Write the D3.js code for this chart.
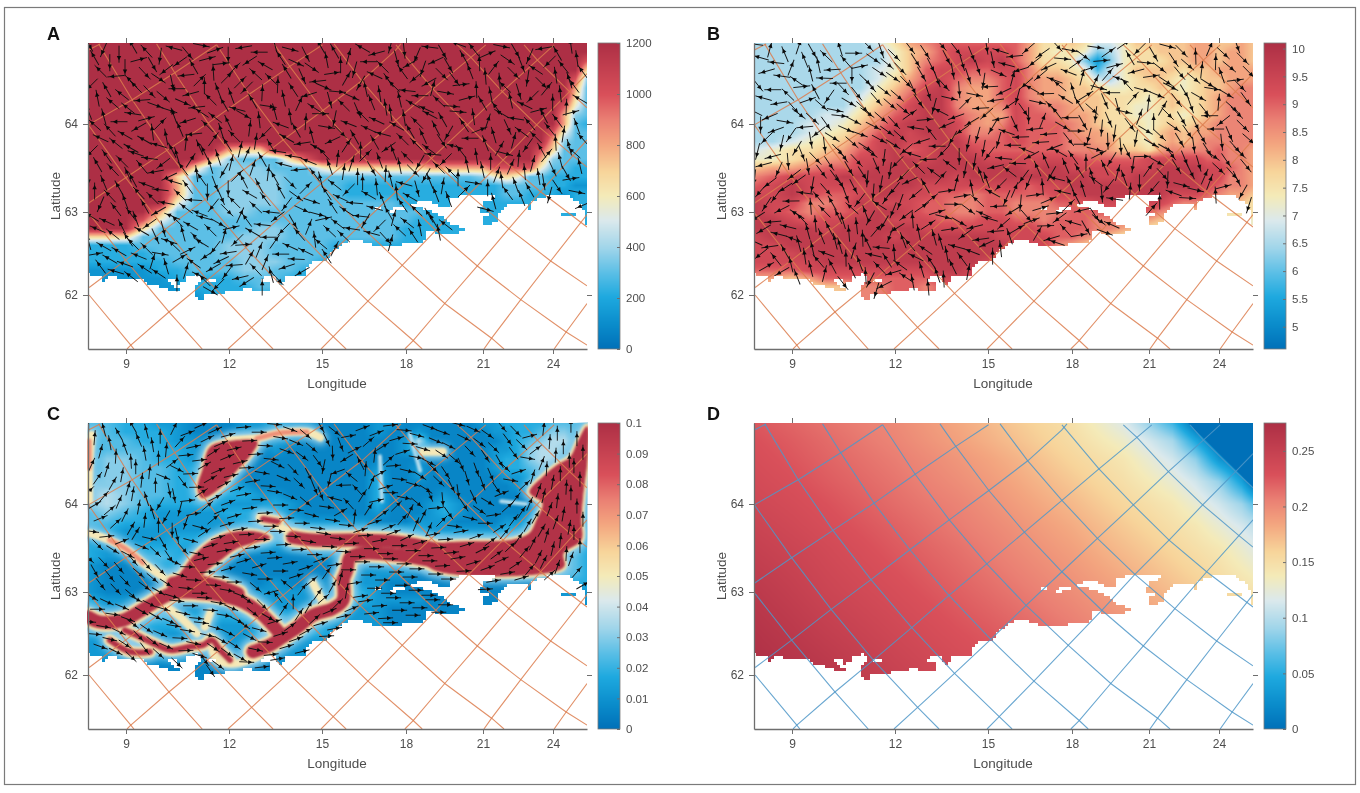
<!DOCTYPE html>
<html>
<head>
<meta charset="utf-8">
<script src="https://cdn.jsdelivr.net/npm/d3@7"></script>
<style>
  html, body { margin: 0; background: #fff; }
  svg { display: block; filter: blur(0.45px); }
  text { font-family: "Liberation Sans", Arial, sans-serif; }
</style>
</head>
<body>
<svg id="fig" width="1360" height="793"></svg>
<script>
// axis ticks
const lonTicks = [9, 12, 15, 18, 21, 24];
const latTicks = [62, 63, 64];
const depthTicks = [0, 200, 400, 600, 800, 1000, 1200];
const tempTicks = [5, 5.5, 6, 6.5, 7, 7.5, 8, 8.5, 9, 9.5, 10];
const speedTicks = [0, 0.01, 0.02, 0.03, 0.04, 0.05, 0.06, 0.07, 0.08, 0.09, 0.1];
const shearTicks = [0, 0.05, 0.1, 0.15, 0.2, 0.25];

// water outline, west to east along the coast, lon/lat
const coastline = [[8,62.25],[8.36,62.22],[8.43,62.14],[8.5,62.2],[8.68,62.24],[8.77,62.18],[9.09,62.18],[9.47,62.19],[9.62,62.13],[9.86,62.11],[10.11,62.09],[10.3,62.04],[10.59,62.04],[10.64,62.06],[10.44,62.1],[10.16,62.19],[10.4,62.21],[10.5,62.13],[10.74,62.18],[10.79,62.24],[11.13,62.25],[11.16,62.16],[10.98,62.08],[11,61.98],[11.13,61.94],[11.28,61.96],[11.32,62.03],[11.76,62.01],[12.05,62.06],[12.59,62.07],[13.29,62.05],[13.29,62.14],[13.07,62.18],[13.18,62.23],[13.4,62.24],[13.67,62.11],[13.88,62.24],[14.53,62.24],[14.51,62.34],[14.75,62.42],[15.13,62.42],[15.31,62.52],[15.67,62.58],[15.79,62.64],[16.26,62.67],[16.86,62.6],[17.21,62.6],[17.69,62.58],[17.93,62.62],[18.57,62.62],[18.77,62.68],[18.77,62.76],[19.87,62.74],[20.26,62.78],[20.26,62.81],[19.61,62.88],[19.42,62.95],[19.09,63],[18.18,63.08],[18.12,63.1],[18.83,63.12],[19.61,63.04],[19.72,63.15],[20.39,63.2],[21.54,63.19],[21.54,63.15],[20.97,63.1],[20.88,63],[21.47,62.99],[21.04,62.95],[21.01,62.85],[21.68,62.87],[21.68,62.98],[22.04,63.1],[22.83,63.1],[22.97,63.02],[23.11,63.12],[23.83,63.19],[24.58,63.2],[25.1,63.1],[25.25,63.1],[25.25,63.02],[25.4,63],[25.4,62.85],[25.5,62.83],[25.5,64.9],[8,64.9]];
const waterPatches = [[[24.27,62.99],[24.9,62.98],[25.1,62.95],[24.35,62.94]]];
const landHoles = [
  [[16.9,63.06],[17.15,63.06],[17.15,63.03],[16.9,63.03]],
  [[17.4,63.02],[17.6,63.02],[17.6,63],[17.4,63]],
  [[11.37,62.19],[11.65,62.19],[11.65,62.17],[11.37,62.17]],
  [[17.55,63.04],[18,63.06],[18,63.03],[17.55,63.02]]
];

// rotated model grid, lon/lat
const gridLines = [
  [[8,64.82],[8.32,64.89]],
  [[8.01,63.99],[9.18,64.27],[10.42,64.57],[11.64,64.88]],
  [[8.01,63.1],[8.99,63.39],[10.19,63.7],[11.39,64.01],[12.65,64.33],[13.96,64.64],[15.02,64.88]],
  [[8.03,62.09],[8.99,62.42],[10.14,62.79],[11.3,63.14],[12.48,63.48],[13.75,63.82],[15.03,64.15],[16.42,64.48],[17.63,64.82],[17.82,64.89]],
  [[9.03,61.3],[9.14,61.35],[10.25,61.78],[11.37,62.18],[12.54,62.57],[13.74,62.96],[14.96,63.32],[16.3,63.68],[17.64,64.04],[19.05,64.39],[20.53,64.74],[21.12,64.88]],
  [[11.97,61.3],[12.73,61.58],[13.92,62.02],[15.1,62.43],[16.36,62.84],[17.64,63.23],[18.99,63.61],[20.39,63.99],[21.83,64.36],[23.33,64.71],[24.05,64.88]],
  [[14.97,61.3],[15.4,61.46],[16.64,61.92],[17.87,62.36],[19.16,62.78],[20.45,63.2],[21.86,63.59],[23.3,63.99],[24.73,64.36],[25.5,64.56]],
  [[17.96,61.3],[18.28,61.41],[19.51,61.89],[20.78,62.35],[22.11,62.8],[23.47,63.23],[24.88,63.64],[25.5,63.82]],
  [[21.04,61.3],[21.37,61.44],[22.62,61.94],[23.9,62.41],[25.5,62.97]],
  [[24.05,61.3],[24.58,61.52],[25.5,61.89]],
  [[8.03,62],[9.14,61.35],[9.23,61.3]],
  [[8.03,62.98],[8.99,62.42],[10.25,61.78],[11.22,61.3]],
  [[8.01,63.99],[8.99,63.39],[10.14,62.79],[11.37,62.18],[12.73,61.58],[13.42,61.3]],
  [[8.28,64.89],[9.18,64.27],[10.19,63.7],[11.3,63.14],[12.54,62.57],[13.92,62.02],[15.4,61.46],[15.86,61.3]],
  [[9.89,64.89],[10.42,64.57],[11.39,64.01],[12.48,63.48],[13.74,62.96],[15.1,62.43],[16.64,61.92],[18.28,61.41],[18.63,61.3]],
  [[11.64,64.88],[12.65,64.33],[13.75,63.82],[14.96,63.32],[16.36,62.84],[17.86,62.36],[19.51,61.89],[21.37,61.44],[21.9,61.3]],
  [[13.45,64.89],[13.96,64.64],[15.03,64.15],[16.3,63.68],[17.64,63.23],[19.16,62.78],[20.78,62.35],[22.62,61.94],[24.58,61.52],[25.5,61.35]],
  [[15.43,64.89],[16.42,64.48],[17.64,64.04],[18.99,63.61],[20.45,63.2],[22.11,62.8],[23.9,62.41],[25.5,62.11]],
  [[17.64,64.88],[19.05,64.39],[20.39,63.99],[21.86,63.59],[23.47,63.23],[25.5,62.82]],
  [[20,64.88],[20.53,64.74],[21.83,64.36],[23.3,63.99],[24.88,63.64],[25.5,63.51]],
  [[22.76,64.88],[23.33,64.71],[24.73,64.36],[25.5,64.18]]
];

// fields: one char per node, 0.5 deg lon by 0.1 deg lat, north row first
const depthRows = [
  '999999 999999 999999 999999 999999 999999','999999 999999 999999 999999 999999 999999',
  '999999 999999 999999 999999 999999 999998','999999 999999 999999 999999 999999 999996',
  '999999 999999 999999 999999 999999 999984','999999 999999 999999 999999 999999 999973',
  '999999 999999 999999 999999 999999 999963','999999 999999 999999 999999 999999 999853',
  '999999 999999 999999 999999 999999 999743','999999 999999 999999 999999 999999 999732',
  '999999 999999 999999 999999 999999 998533','999999 999999 999999 999999 999999 997433',
  '999999 997669 999999 999999 999999 986333','999999 974333 689999 999999 999999 974333',
  '999999 634443 335666 666677 777888 853322','999996 334444 333333 333333 334565 332222',
  '999997 334444 333322 222222 222233 332211','999997 334444 333322 222222 222233 222122',
  '999995 334444 333333 332222 222222 221122','999973 334433 333333 333322 222222 222222',
  '999853 333333 333333 333222 222222 222222','999633 333344 333333 332222 222222 222222',
  '666333 333444 333333 332222 222222 222222','222333 334443 333222 222222 222222 222222',
  '222233 334443 333222 222222 222222 222222','222223 333444 332212 222222 222222 222222',
  '111122 333443 322211 112222 222222 222222','111112 222333 222211 111111 111111 111111',
  '111111 222233 222211 111111 111111 111111','111111 122222 111111 111111 111111 111111',
  '111111 111111 111111 111111 111111 111111'
];
const depthLevels = [60, 130, 220, 300, 370, 560, 680, 800, 1000, 1200];
const tempRows = [
  '000000 013567 777775 334311 244444 554454','000000 002457 888875 3232c0 233444 554554',
  '000000 002467 898975 332cac 233344 554554','000000 012478 877886 4432b1 244443 445555',
  '000000 013578 766786 554310 234432 344555','000000 024689 655786 554432 233432 344566',
  '000000 135799 655786 554443 332343 345666','000000 246899 655687 665443 322343 345666',
  '000011 357899 765587 765543 322332 345666','000112 468999 865687 776543 332343 456666',
  '000123 579899 866787 776554 332454 556666','001234 689889 977787 776655 332454 566666',
  '123345 789789 987777 776665 443566 667665','223456 889989 998888 888777 778888 877665',
  '455677 899999 999998 998888 888999 988765','678889 999999 899999 999988 899999 988665',
  '789888 899988 888887 889999 999999 987665','889877 899887 767777 788999 999988 876554',
  '988667 988877 667766 677788 888876 665543','987677 899877 667766 667777 777654 443333',
  '998788 998887 778877 677766 665443 333222','999989 999988 888888 777766 543322 222222',
  '899999 998999 999888 877654 332222 222222','889999 999999 999988 865433 222222 222222',
  '888999 999999 999887 654433 222222 222222','888899 999999 998876 654433 222222 222222',
  '777888 888889 988776 543333 222222 222222','554577 777778 887765 443322 222222 222222',
  '443344 667767 777654 433333 222222 222222','443344 667767 777654 433333 222222 222222',
  '443344 667767 777654 433333 222222 222222'
];
const speedRows = [
  '443322 111223 221111 221111 112233 334443','443332 111222 221111 211211 111223 345543',
  '344332 211122 211111 112611 111123 456643','344433 211112 111111 112411 111223 566543',
  '355433 221111 111111 111111 111233 566433','355443 322111 111111 211211 111233 455433',
  '455443 332111 111111 311211 111122 344333','555443 333211 111111 311111 111112 233233',
  '565443 333322 111111 311112 111111 123233','565433 332223 211111 311123 211111 133333',
  '454322 223333 211111 211123 211111 244333','443322 222333 322222 111222 111122 344333',
  '332222 222333 444433 333322 222233 444443','222223 344444 444444 444444 444444 444443',
  '322333 222222 222333 444444 444444 444443','322343 222111 112222 333344 444444 444443',
  '211233 221111 111122 222233 333344 444443','211122 331111 111112 222111 122333 344443',
  '211112 333112 112122 211111 111111 122233','211111 332122 222233 211111 111111 111222',
  '322222 222222 222333 222211 111111 111222','322332 222222 223322 211111 111111 111111',
  '333443 333333 333322 211111 111111 111111','222333 222222 333222 211111 111111 111111',
  '322222 222233 233222 111111 111111 111111','222222 222222 222111 111111 111111 111111',
  '222222 222222 221111 111111 111111 111111','222222 222222 221111 111111 111111 111111',
  '111111 111111 111111 111111 111111 111111','111111 111111 111111 111111 111111 111111',
  '111111 111111 111111 111111 111111 111111'
];
const tempLevels = { a: 5.3, b: 5.8, c: 6.2 };

// panel D is smooth, so it is read on a coarser net
const shearLons = [8, 10, 12, 14, 16, 18, 20, 22, 23, 24, 25, 25.5];
const shearLats = [64.9, 64.7, 64.5, 64.25, 64, 63.75, 63.5, 63, 62.5, 62];
const shearValues = [
  [0.225,0.212,0.2,0.183,0.165,0.148,0.118,0.058,0,0,0,0],
  [0.229,0.216,0.203,0.187,0.17,0.152,0.131,0.094,0.046,0,0,0],
  [0.232,0.219,0.207,0.193,0.177,0.158,0.142,0.111,0.085,0.03,0,0],
  [0.236,0.223,0.211,0.198,0.183,0.166,0.149,0.127,0.111,0.087,0.04,0],
  [0.24,0.228,0.215,0.204,0.189,0.174,0.157,0.141,0.127,0.111,0.09,0.069],
  [0.245,0.232,0.22,0.208,0.195,0.181,0.165,0.149,0.141,0.127,0.113,0.105],
  [0.25,0.237,0.224,0.213,0.2,0.187,0.172,0.157,0.149,0.141,0.128,0.12],
  [0.26,0.244,0.232,0.221,0.21,0.198,0.186,0.172,0.165,0.157,0.149,0.146],
  [0.268,0.253,0.24,0.229,0.22,0.209,0.196,0.184,0.178,0.171,0.164,0.16],
  [0.275,0.263,0.248,0.237,0.226,0.216,0.207,0.195,0.189,0.184,0.178,0.174]
];
const shearCorner = [[22.68,64.9],[25.5,64.19],[25.5,64.9]];

// panel C current cores
const redBlobs = [
  [[11.45,64.63],[11.94,64.69],[12.9,64.69],[12.68,64.54],[12.26,64.38],[11.74,64.18],[11.21,64.07],[11.1,64.19],[11.24,64.38]],
  [[10.66,63.25],[10.95,63.4],[11.45,63.57],[12.03,63.67],[12.9,63.68],[13.32,63.62],[12.9,63.57],[12.26,63.5],[11.74,63.36],[11.36,63.25],[11.07,63.14],[10.28,63.05]],
  [[23.01,64.13],[23.57,64.3],[24.18,64.43],[24.77,64.52],[25.14,64.71],[25.5,64.86],[25.5,64.49],[25.32,64.12],[25.23,63.82],[25.23,63.59],[24.45,63.44],[24.45,63.28],[18.93,63.28],[18.93,63.5],[22.29,63.59],[23.01,63.67],[23.31,63.82],[23.57,64.01]]
];
const midRidges = [
  [[14.06,63.62],[14.71,63.59],[16.11,63.59],[17.68,63.57],[19.32,63.48]],
  [[15.75,63.14],[15.89,63.25],[16,63.39],[16.46,63.44],[17.68,63.42],[18.93,63.36]],
  [[12.77,62.28],[13.32,62.36],[13.74,62.46],[14.19,62.57],[14.71,62.72],[15.39,62.8],[15.75,62.9],[15.75,63.14]],
  [[8,62.7],[8.3,62.64],[8.92,62.66],[9.61,62.82],[10.37,62.99],[11.07,62.99],[11.74,62.96],[12.45,62.88],[13,62.75],[13.74,62.46]],
  [[10.37,63.1],[11.07,63.12],[11.74,63.06],[12.3,62.98]]
];
const thinRidges = [
  [[9.41,62.46],[9.9,62.36],[10.28,62.3],[10.86,62.34],[11.24,62.36],[11.5,62.42],[11.74,62.3],[12.03,62.18]],
  [[8.57,62.42],[9.12,62.28],[9.7,62.28]],
  [[8.97,62.54],[9.41,62.46]],
  [[13.1,63.83],[13.58,63.8]]
];
const creamRidges = [
  [[12.03,64.71],[12.9,64.73],[13.65,64.79],[14.52,64.8],[14.94,64.74]],
  [[8.09,64.77],[8.03,64.38],[8.03,64.04]],
  [[8.03,63.67],[8.57,63.59],[9.03,63.48],[9.5,63.33],[10.08,63.17]],
  [[13,63.85],[14.06,63.67]],
  [[18.66,64.58],[19.43,64.58]],
  [[11.3,62.58],[11.45,62.75]],
  [[10.19,62.82],[10.57,62.7],[11.07,62.5]],
  [[11.45,62.46],[11.65,62.18],[12.26,62.14],[12.9,62.22]],
  [[14.71,63.1],[15.04,62.87]]
];
const orangeRidges = [
  [[12.9,64.73],[13.65,64.79],[14.52,64.8]],
  [[8.03,64.7],[8.03,64.4]],
  [[8.57,63.59],[9.03,63.48],[9.5,63.33]]
];
const paleRidges = [
  [[17.07,64.53],[17.14,64.03]],
  [[18.15,64.78],[18.55,64.37]],
  [[21.78,64.03],[22.85,64.0]]
];

// quiver net
const arrowLons = [8.2,8.6,9,9.4,9.8,10.2,10.6,11,11.4,11.8,12.2,12.7,13.2,13.7,14.2,14.7,15.2,15.7,16.2,16.7,17.2,17.7,18.2,18.7,19.2,19.7,20.3,20.9,21.5,22.1,22.7,23.3,23.9,24.5,25.1];
const arrowLats = [64.82,64.67,64.52,64.37,64.22,64.07,63.92,63.77,63.62,63.47,63.32,63.17,63.02,62.87,62.72,62.57,62.42,62.27,62.12,61.99];
// clock directions: 0 north, 3 east, 6 south, 9 west, a and b above that
const depthArrows = [
  '5b60a 5b640 6a5b3 6bb40 6a5b6 05a34 b6a50','b5605 a5b34 06ab5 4a069 b54a6 b5a06 4b5a0',
  '06b54 a6093 b5a06 b34a5 0b6a4 5b036 a5b06','7b0a5 36b4a 05b3a 6a4b5 09a5b 36b0a 45b3a',
  '16b94 05a3b 6a40b 5a36b 05b9a 34b60 a5b39','b07a5 3b6a9 04a5b 3b6a0 5b3a9 06b4a 5b093',
  '5a16b 0a5b3 94b60 a35b9 6a04b 5a3b6 09a4b','07b5a 16b3a 05b94 a6b30 5b9a4 06b3a 5b40a',
  '6b07a 5b16a 03b5a 94b06 a3b59 6a0b4 5a3b9','06b07 a5b16 04b6a 0b505 b0650 b5061 b0650',
  '60b06 b5a06 60b06 50b60 50b60 b5060 b0650','06b60 a3963 a95b4 3a96b 0a593 a4b39 0a653',
  '60b06 9a394 b3a93 6b3a9 4a3b9 3a59b 3a49a','b6a06 3b9a5 3a964 b39a5 3a93b 94b3a 93a59',
  '9b3a5 a393b 5a39b 3a5b9 4a39b 3a59a 3b94a','3a94b 6a3b9 5a34b 9a3b5 a39b5 3a49a 35b9a',
  '5b9a3 b3a69 4b3a9 6b34a 95b3a 9a5b3 a49b3','3a5b9 3b6a4 9b5a6 b39a5 63b94 a3b59 3a4b9',
  '9a3b6 5b3b5 a6b35 a9b4a 3b59a 3b5a9 3a4b5','5b34a b6b5a 6b45a 3b9a5 b3a94 b3a5b 9a3b5'
];
const tempArrows = [
  '93b05 a0459 45544 55b96 a5354 b4a50 5b156','a95b3 9b044 45556 66a95 b4a15 05b46 4b054',
  '83a07 95544 55665 72395 b8303 a5b46 45a05','39a4b a4554 45638 3a5b4 9a0a4 9b542 5b445',
  'a8405 34554 45932 9a7a4 b9354 a3b06 74b45','b8345 92445 5b3a9 87245 2a9b5 63a04 55a94',
  '4a8b9 34344 39278 57b89 a4396 9455b 54b54','85739 45443 88b71 75ab9 85335 6b445 94a54',
  '6b654 55538 7b775 76b78 2a9b3 85144 65b54','06b64 55546 70b06 07060 60b0b 06b55 50555',
  '66b6b 55577 06b60 00606 06b06 60607 b5b05','b6b6b 05a47 67b33 9b5a4 b7b06 b0607 23a59',
  '67b28 b6b07 92335 a9753 23947 5a393 b5b36','8b7b1 b0b57 7b234 9b712 37a53 92a34 56789',
  '6b806 b1b27 10717 a5b17 9b3a4 b1a54 3b5a9','b7b01 7b2b7 1b817 07b17 07b3a 4b5a4 b5a40',
  '7b1b7 b1b71 a7b1b 715b7 a4b5a 30000 00000','27b02 b71b7 a1b82 7b5a4 30000 00000 00000',
  '71707 37277 b0000 00000 00000 00000 00000','71707 37277 b0000 00000 00000 00000 00000'
];
const speedArrows = [
  '00aa0 0b522 33333 45532 33334 43344 55000','00bb0 05122 23334 55a32 a3344 34455 50000',
  '01b00 05222 33344 45992 a2344 45555 50000','11000 55222 33345 56a91 23445 55655 11000',
  '11100 66222 23345 66a92 33445 56655 10000','21100 76222 22334 46b09 33434 56542 11100',
  '22100 77122 33332 33a92 23a9a 96521 11100','32100 66a22 33333 34332 9a003 34321 11100',
  'a4000 55933 23333 44333 33333 23211 11100','44555 55222 33333 33333 33333 32222 11000',
  'a5445 55233 3a332 23333 33333 33222 21000','45554 43333 3a933 2b933 33333 33333 32222',
  '55444 43333 44499 30a93 33333 33333 33222','93444 33334 45aa0 22333 33333 33322 22222',
  '33344 43333 34510 12222 33333 33333 33333','33454 45333 45432 23333 33333 33333 33333',
  '34455 23344 54322 33333 33333 33333 33333','33455 33a44 53222 33333 33333 33333 33333',
  '45555 4a545 33333 33333 33333 33333 33333','55555 55555 33333 33333 33333 33333 33333'
];

const svg = d3.select('#fig');

const lonX = d3.scaleLinear().domain([8, 9, 12, 15, 18, 21, 24, 25.5]).range([88, 126, 229, 322, 406, 483, 553, 587]);
const latY = d3.scaleLinear().domain([61.3, 62, 63, 64, 64.9]).range([349, 295, 212, 124, 43]);
const plotW = 499, plotH = 306, plotLeft = 88, plotTop = 43;

const palette = d3.scaleLinear()
  .domain([0, 0.08, 0.17, 0.25, 0.33, 0.42, 0.5, 0.58, 0.67, 0.75, 0.83, 1])
  .range(['#0070b8', '#0a8ccb', '#1ea9df', '#5cbfe6', '#a0d5ea', '#dbe9ec', '#f4eab8', '#f7d49a', '#f3a57f', '#ea7f73', '#d9505a', '#ad2f45'])
  .clamp(true);

const clean = rows => rows.map(r => r.replace(/ /g, ''));

function charGrid(rows, level) {
  return clean(rows).map(r => Array.from(r).map(level));
}

// bilinear lookup through the grid, col and row are fractional indexes
function sample(grid, col, row) {
  const r0 = Math.min(Math.floor(row), grid.length - 1), r1 = Math.min(r0 + 1, grid.length - 1);
  const c0 = Math.min(Math.floor(col), grid[0].length - 1), c1 = Math.min(c0 + 1, grid[0].length - 1);
  const fr = row - r0, fc = col - c0;
  const top = grid[r0][c0] * (1 - fc) + grid[r0][c1] * fc;
  const bot = grid[r1][c0] * (1 - fc) + grid[r1][c1] * fc;
  return top * (1 - fr) + bot * fr;
}

function fieldImage(grid, colOf, rowOf, color) {
  const canvas = document.createElement('canvas');
  canvas.width = plotW;
  canvas.height = plotH;
  const ctx = canvas.getContext('2d');
  const img = ctx.createImageData(plotW, plotH);
  for (let y = 0; y < plotH; y++) {
    const row = rowOf(latY.invert(y + plotTop + 0.5));
    for (let x = 0; x < plotW; x++) {
      const col = colOf(lonX.invert(x + plotLeft + 0.5));
      const c = d3.rgb(color(sample(grid, col, Math.max(row, 0))));
      const i = (y * plotW + x) * 4;
      img.data[i] = c.r; img.data[i + 1] = c.g; img.data[i + 2] = c.b; img.data[i + 3] = 255;
    }
  }
  ctx.putImageData(img, 0, 0);
  return canvas.toDataURL();
}

function barImage(color, domain) {
  const canvas = document.createElement('canvas');
  canvas.width = 1;
  canvas.height = plotH;
  const ctx = canvas.getContext('2d');
  const v = d3.scaleLinear().domain([0, plotH]).range([domain[1], domain[0]]);
  for (let y = 0; y < plotH; y++) {
    ctx.fillStyle = color(v(y + 0.5));
    ctx.fillRect(0, y, 1, 1);
  }
  return canvas.toDataURL();
}

const geoLine = d3.line().x(d => lonX(d[0])).y(d => latY(d[1]));
const softLine = d3.line().x(d => lonX(d[0])).y(d => latY(d[1])).curve(d3.curveCatmullRom);
const softBlob = d3.line().x(d => lonX(d[0])).y(d => latY(d[1])).curve(d3.curveCatmullRomClosed);

// the land mask in the source is made of model cells, so snap the outline to them
function blockyPath(ring, cell) {
  const pts = ring.concat([ring[0]]).map(d => [lonX(d[0]), latY(d[1])]);
  const snap = v => Math.round(v / cell) * cell;
  let cx = snap(pts[0][0]), cy = snap(pts[0][1]);
  let out = `M${cx},${cy}`;
  for (let k = 1; k < pts.length; k++) {
    const [x0, y0] = pts[k - 1], [x1, y1] = pts[k];
    const n = Math.max(1, Math.ceil(Math.hypot(x1 - x0, y1 - y0) / (cell / 2)));
    for (let s = 1; s <= n; s++) {
      const sx = snap(x0 + (x1 - x0) * s / n), sy = snap(y0 + (y1 - y0) * s / n);
      if (sx !== cx) { out += `H${sx}`; cx = sx; }
      if (sy !== cy) { out += `V${sy}`; cy = sy; }
    }
  }
  return out + 'Z';
}

const defs = svg.append('defs');
[['blur1', 0.8], ['blur2', 1.8], ['blur3', 3.5]].forEach(([id, s]) => {
  defs.append('filter').attr('id', id)
    .attr('x', -0.2).attr('y', -0.2).attr('width', 1.4).attr('height', 1.4)
    .append('feGaussianBlur').attr('stdDeviation', s);
});
defs.append('clipPath').attr('id', 'water')
  .append('path')
  .attr('clip-rule', 'evenodd')
  .attr('d', [blockyPath(coastline, 3)]
    .concat(waterPatches.map(p => blockyPath(p, 3)))
    .concat(landHoles.map(p => blockyPath(p, 3))).join(''));
defs.append('clipPath').attr('id', 'plotArea')
  .append('rect').attr('x', plotLeft).attr('y', plotTop).attr('width', plotW).attr('height', plotH);

const coastPx = coastline.map(d => [lonX(d[0]), latY(d[1])]);

function drawArrows(g, rows, len, selfWeight) {
  const dirs = clean(rows).map(r => Array.from(r).map(ch => parseInt(ch, 12) * Math.PI / 6));
  const cells = [];
  dirs.forEach((r, j) => {
    r.forEach((a, i) => {
      // the source lattice runs along the rotated grid, so shear the rows and columns
      const x = lonX(arrowLons[i]) + ((j * 6) % 15) - 7;
      const y = latY(arrowLats[j]) + ((i * 5) % 13) - 6;
      if (!d3.polygonContains(coastPx, [x, y])) return;
      // flow direction of the cell together with its neighbours
      let sx = selfWeight * Math.sin(a), sy = selfWeight * Math.cos(a);
      for (let dj = -1; dj <= 1; dj++) {
        for (let di = -1; di <= 1; di++) {
          const n = dirs[j + dj] && dirs[j + dj][i + di];
          if (n === undefined || (!di && !dj)) continue;
          sx += Math.sin(n);
          sy += Math.cos(n);
        }
      }
      cells.push({ x, y, a: Math.atan2(sx, sy) * 180 / Math.PI });
    });
  });
  const arrows = g.append('g').attr('clip-path', 'url(#plotArea)')
    .selectAll('g').data(cells).join('g')
    .attr('transform', d => `translate(${d.x},${d.y}) rotate(${d.a})`);
  arrows.append('line')
    .attr('y1', len / 2).attr('y2', -len / 2)
    .attr('stroke', '#111').attr('stroke-width', 0.9);
  arrows.append('path')
    .attr('d', `M0,${-len * 0.36}L2.2,${-len * 0.1}L-2.2,${-len * 0.1}Z`)
    .attr('fill', '#0a0a0a');
}

function drawCurrents(g) {
  const add = (lines, gen, width, color, blur) => {
    g.append('g').attr('filter', `url(#${blur})`)
      .selectAll('path').data(lines).join('path')
      .attr('d', gen)
      .attr('fill', gen === softBlob ? color : 'none')
      .attr('stroke', color)
      .attr('stroke-width', width)
      .attr('stroke-linejoin', 'round')
      .attr('stroke-linecap', 'round');
  };
  add(paleRidges, softLine, 4, '#b5deee', 'blur1');
  add(creamRidges, softLine, 15, '#8fcde9', 'blur3');
  add(midRidges, softLine, 27, '#8fcde9', 'blur3');
  add(thinRidges, softLine, 19, '#8fcde9', 'blur3');
  add(redBlobs, softBlob, 14, '#8fcde9', 'blur3');
  add(creamRidges, softLine, 8, '#f5e8b8', 'blur1');
  add(midRidges, softLine, 19, '#f5e3ae', 'blur1');
  add(thinRidges, softLine, 12, '#f5e3ae', 'blur1');
  add(redBlobs, softBlob, 6, '#f5e3ae', 'blur1');
  add(orangeRidges, softLine, 5, '#ee9078', 'blur1');
  add(midRidges, softLine, 13, '#b23347', 'blur1');
  add(thinRidges, softLine, 6, '#b23347', 'blur1');
  add(redBlobs, softBlob, 1, '#b23347', 'blur1');
}

function drawPanel(p) {
  const root = svg.append('g').attr('transform', `translate(${p.dx},${p.dy})`);
  const color = v => palette((v - p.domain[0]) / (p.domain[1] - p.domain[0]));

  const water = root.append('g').attr('clip-path', 'url(#water)');
  water.append('image')
    .attr('x', plotLeft).attr('y', plotTop).attr('width', plotW).attr('height', plotH)
    .attr('preserveAspectRatio', 'none')
    .attr('href', fieldImage(p.grid, p.colOf, p.rowOf, color));
  if (p.currents) drawCurrents(water);
  if (p.corner) water.append('path').attr('d', geoLine(p.corner) + 'Z').attr('fill', color(0));

  root.append('g').attr('clip-path', 'url(#plotArea)')
    .selectAll('path').data(gridLines).join('path')
    .attr('d', geoLine)
    .attr('fill', 'none')
    .attr('stroke', p.gridColor)
    .attr('stroke-opacity', 0.85)
    .attr('stroke-width', 1.1);

  if (p.arrows) drawArrows(root, p.arrows, p.arrowLen, p.selfWeight);

  const styleAxis = g => {
    g.selectAll('.domain').attr('stroke', '#6e6e6e').attr('stroke-width', 1.3);
    g.selectAll('.tick line').attr('stroke', '#6e6e6e');
    g.selectAll('.tick text').attr('fill', '#4d4d4d').attr('font-size', 12)
      .attr('font-family', '"Liberation Sans", Arial, sans-serif');
  };
  root.append('g').attr('transform', 'translate(0,349)')
    .call(d3.axisBottom(lonX).tickValues(lonTicks).tickSize(5).tickSizeOuter(0).tickPadding(5).tickFormat(d3.format('d')))
    .call(styleAxis);
  root.append('g').attr('transform', 'translate(88,0)')
    .call(d3.axisLeft(latY).tickValues(latTicks).tickSize(5).tickSizeOuter(0).tickPadding(5).tickFormat(d3.format('d')))
    .call(styleAxis);
  root.append('g').attr('transform', 'translate(0,43)')
    .call(d3.axisTop(lonX).tickValues(lonTicks).tickSize(5).tickFormat(''))
    .call(styleAxis).call(g => g.select('.domain').remove());
  root.append('g').attr('transform', 'translate(587,0)')
    .call(d3.axisRight(latY).tickValues(latTicks).tickSize(5).tickFormat(''))
    .call(styleAxis).call(g => g.select('.domain').remove());

  root.append('text').attr('x', 337).attr('y', 388).attr('text-anchor', 'middle')
    .attr('font-size', 13.5).attr('fill', '#4d4d4d').text('Longitude');
  root.append('text').attr('transform', 'translate(60,196) rotate(-90)').attr('text-anchor', 'middle')
    .attr('font-size', 13.5).attr('fill', '#4d4d4d').text('Latitude');
  root.append('text').attr('x', p.letterX).attr('y', 40)
    .attr('font-size', 18).attr('font-weight', 'bold').attr('fill', '#111').text(p.letter);

  // colour bar
  const barY = d3.scaleLinear().domain(p.domain).range([349, 43]);
  root.append('image').attr('x', 598).attr('y', 43).attr('width', 22).attr('height', plotH)
    .attr('preserveAspectRatio', 'none').attr('href', barImage(color, p.domain));
  root.append('rect').attr('x', 598).attr('y', 43).attr('width', 22).attr('height', plotH)
    .attr('fill', 'none').attr('stroke', '#7a7a7a').attr('stroke-width', 0.8);
  root.append('g').attr('transform', 'translate(620,0)')
    .call(d3.axisRight(barY).tickValues(p.ticks).tickSize(-3).tickPadding(6).tickFormat(p.fmt))
    .call(styleAxis)
    .call(g => g.select('.domain').remove())
    .call(g => g.selectAll('.tick text').attr('font-size', 11.5));
}

const uniformCol = d3.scaleLinear().domain([8, 25.5]).range([0, 35]);
const uniformRow = d3.scaleLinear().domain([64.9, 61.9]).range([0, 30]).clamp(true);
const shearCol = d3.scaleLinear().domain(shearLons).range(d3.range(shearLons.length));
const shearRow = d3.scaleLinear().domain(shearLats).range(d3.range(shearLats.length)).clamp(true);

drawPanel({
  letter: 'A', letterX: 47, dx: 0, dy: 0, domain: [0, 1200], ticks: depthTicks, fmt: d3.format('d'),
  grid: charGrid(depthRows, ch => depthLevels[+ch]), colOf: uniformCol, rowOf: uniformRow,
  gridColor: '#dc7d4e', arrows: depthArrows, arrowLen: 17, selfWeight: 2
});
drawPanel({
  letter: 'B', letterX: 41, dx: 666, dy: 0, domain: [4.6, 10.1], ticks: tempTicks, fmt: d => String(d),
  grid: charGrid(tempRows, ch => tempLevels[ch] !== undefined ? tempLevels[ch] : 6.5 + +ch * 0.36), colOf: uniformCol, rowOf: uniformRow,
  gridColor: '#dc7d4e', arrows: tempArrows, arrowLen: 17, selfWeight: 3
});
drawPanel({
  letter: 'C', letterX: 47, dx: 0, dy: 380, domain: [0, 0.1], ticks: speedTicks, fmt: d => String(d),
  grid: charGrid(speedRows, ch => +ch * 0.006), colOf: uniformCol, rowOf: uniformRow,
  gridColor: '#dc7d4e', arrows: speedArrows, arrowLen: 15, selfWeight: 1, currents: true
});
drawPanel({
  letter: 'D', letterX: 41, dx: 666, dy: 380, domain: [0, 0.275], ticks: shearTicks, fmt: d => String(d),
  grid: shearValues, colOf: shearCol, rowOf: shearRow,
  gridColor: '#4f96c8', corner: shearCorner
});

// figure frame
svg.append('rect').attr('x', 4.5).attr('y', 7.5).attr('width', 1351).attr('height', 777)
  .attr('fill', 'none').attr('stroke', '#7a7a7a').attr('stroke-width', 1.2);
</script>
</body>
</html>
